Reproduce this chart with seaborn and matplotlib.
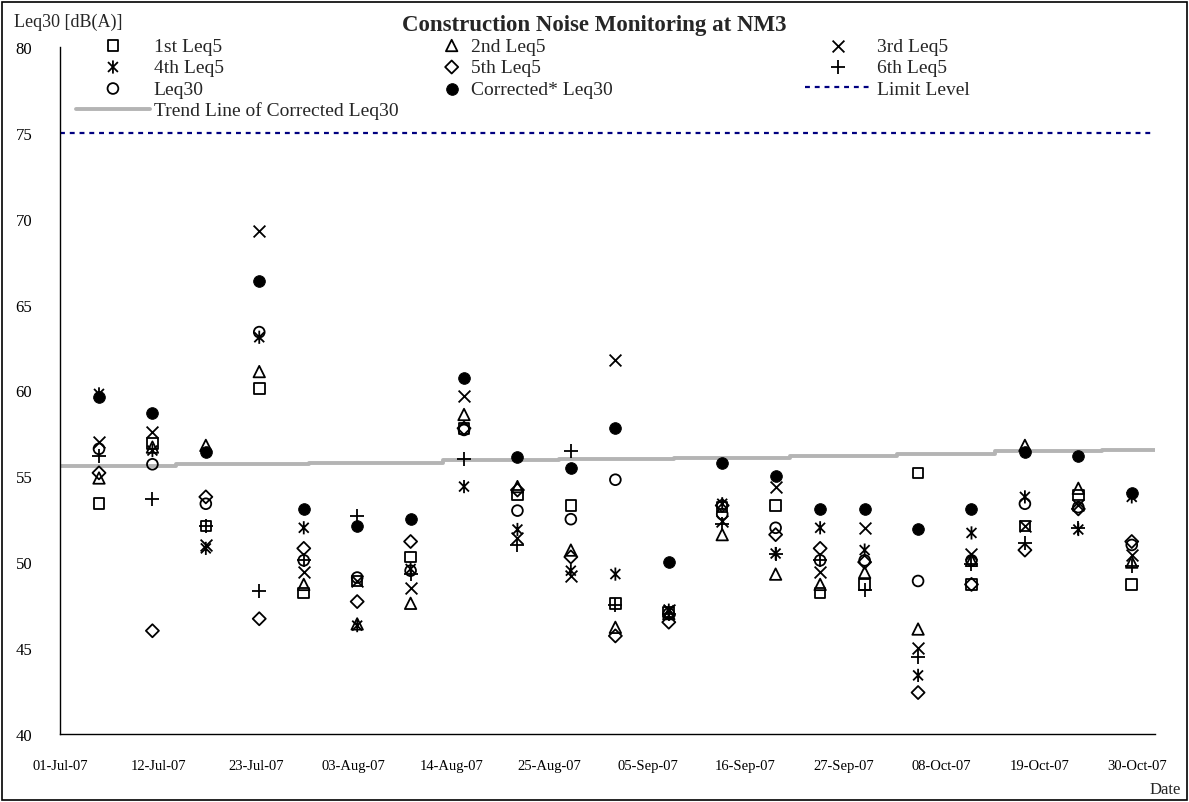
import matplotlib
matplotlib.use("Agg")
import pandas as pd
import seaborn as sns
import matplotlib.pyplot as plt
import matplotlib.dates as mdates
from matplotlib.path import Path
from matplotlib.patches import Rectangle

# measurement days (readings taken around 09:00)
dates = ["2007-07-05", "2007-07-11", "2007-07-17", "2007-07-23", "2007-07-28",
         "2007-08-03", "2007-08-09", "2007-08-15", "2007-08-21", "2007-08-27",
         "2007-09-01", "2007-09-07", "2007-09-13", "2007-09-19", "2007-09-24",
         "2007-09-29", "2007-10-05", "2007-10-11", "2007-10-17", "2007-10-23",
         "2007-10-29"]

leq5_1 = [53.4, 56.9, 52.1, 60.1, 48.2, 48.9, 50.3, 57.8, 53.9, 53.3, 47.6,
          47.1, 53.2, 53.3, 48.2, 48.7, 55.2, 48.7, 52.1, 53.9, 48.7]
leq5_2 = [54.9, 56.7, 56.8, 61.1, 48.7, 46.4, 47.6, 58.6, 54.4, 50.7, 46.2,
          47.0, 51.6, 49.3, 48.7, 49.4, 46.1, 50.1, 56.8, 54.3, 50.0]
leq5_3 = [57.0, 57.6, 51.0, 69.3, 49.4, 48.9, 48.5, 59.7, 51.4, 49.2, 61.8,
          47.2, 52.4, 54.4, 49.4, 52.0, 45.0, 50.5, 52.1, 53.3, 50.4]
leq5_4 = [59.8, 56.5, 50.8, 63.1, 52.0, 46.3, 49.6, 54.4, 51.9, 49.5, 49.3,
          47.2, 53.4, 50.5, 52.0, 50.7, 43.4, 51.7, 53.8, 51.9, 53.8]
leq5_5 = [55.2, 46.0, 53.8, 46.7, 50.8, 47.7, 51.2, 57.8, 54.2, 50.3, 45.7,
          46.5, 53.3, 51.6, 50.8, 50.0, 42.4, 48.7, 50.7, 53.1, 51.2]
leq5_6 = [56.2, 53.7, 52.1, 48.3, 50.1, 52.7, 49.3, 56.0, 51.0, 56.5, 47.5,
          47.0, 52.2, 50.5, 50.1, 48.4, 44.5, 49.9, 51.1, 52.0, 49.8]
leq30 = [56.6, 55.7, 53.4, 63.4, 50.1, 49.1, 49.5, 57.7, 53.0, 52.5, 54.8,
         47.0, 52.8, 52.0, 50.1, 50.1, 48.9, 50.1, 53.4, 53.2, 51.0]
leq30_corr = [59.6, 58.7, 56.4, 66.4, 53.1, 52.1, 52.5, 60.7, 56.1, 55.5, 57.8,
              50.0, 55.8, 55.0, 53.1, 53.1, 51.9, 53.1, 56.4, 56.2, 54.0]

trend_dates = ["2007-07-01", "2007-07-14", "2007-07-29", "2007-08-13", "2007-08-26",
               "2007-09-08", "2007-09-21", "2007-10-03", "2007-10-14", "2007-10-26",
               "2007-11-01"]
trend_vals = [55.57, 55.69, 55.80, 55.93, 56.00, 56.09, 56.20, 56.32, 56.45, 56.56, 56.56]

limit_dates = ["2007-07-01", "2007-11-01"]
limit_vals = [75, 75]

tick_dates = pd.date_range("2007-07-01", "2007-10-30", freq="11D")

t = pd.to_datetime(dates) + pd.Timedelta(hours=9)
df = pd.DataFrame({"Date": t, "1st Leq5": leq5_1, "2nd Leq5": leq5_2,
                   "3rd Leq5": leq5_3, "4th Leq5": leq5_4, "5th Leq5": leq5_5,
                   "6th Leq5": leq5_6, "Leq30": leq30, "Corrected* Leq30": leq30_corr})
trend = pd.DataFrame({"Date": pd.to_datetime(trend_dates), "v": trend_vals})
limit = pd.DataFrame({"Date": pd.to_datetime(limit_dates), "v": limit_vals})

sns.set_theme(style="white")
plt.rcParams["font.family"] = ["Liberation Serif", "DejaVu Serif"]

# excel style asterisk: x with a vertical bar
star = Path([(0, -1), (0, 1), (-0.75, -0.75), (0.75, 0.75), (-0.75, 0.75), (0.75, -0.75)],
            [Path.MOVETO, Path.LINETO] * 3)

open_kw = dict(facecolors="none", edgecolor="black", linewidth=1.3)
styles = {
    "1st Leq5": dict(marker="s", s=58, **open_kw),
    "2nd Leq5": dict(marker="^", s=68, **open_kw),
    "3rd Leq5": dict(marker="x", s=72, color="black", linewidth=1.3),
    "4th Leq5": dict(marker=star, s=90, **open_kw),
    "5th Leq5": dict(marker="D", s=44, **open_kw),
    "6th Leq5": dict(marker="+", s=95, color="black", linewidth=1.3),
    "Leq30": dict(marker="o", s=60, **open_kw),
    "Corrected* Leq30": dict(marker="o", s=70, color="black", edgecolor="black"),
}

fig = plt.figure(figsize=(11.89, 8.03), dpi=100)
ax = fig.add_axes([0.0505, 0.085, 0.921, 0.855])

sns.lineplot(data=trend, x="Date", y="v", ax=ax, color="#b4b4b4", linewidth=2.8,
             drawstyle="steps-post", estimator=None, label="Trend Line of Corrected Leq30",
             zorder=1)
sns.lineplot(data=limit, x="Date", y="v", ax=ax, color="#000080", linewidth=1.6,
             linestyle=(0, (2.2, 2.2)), estimator=None, label="Limit Level", zorder=1)
for name, kw in styles.items():
    sns.scatterplot(data=df, x="Date", y=name, ax=ax, label=name, zorder=3, **kw)

ax.set_xlim(pd.Timestamp("2007-07-01"), pd.Timestamp("2007-11-01"))
ax.set_ylim(40, 80)
ax.set_yticks(range(40, 81, 5))
ax.set_xticks(tick_dates)
ax.xaxis.set_major_formatter(mdates.DateFormatter("%d-%b-%y"))
ax.set_xlabel("")
ax.set_ylabel("")
for side in ["top", "right"]:
    ax.spines[side].set_visible(False)
for side in ["left", "bottom"]:
    ax.spines[side].set_color("black")
    ax.spines[side].set_linewidth(1.0)
ax.tick_params(axis="both", direction="in", length=5, width=1, color="black",
               labelcolor="black")
ax.tick_params(axis="y", pad=20, labelsize=12)
ax.tick_params(axis="x", pad=18, labelsize=10.5)
ax.grid(False)

# legend in three columns, like the spreadsheet layout
h, l = ax.get_legend_handles_labels()
hd = dict(zip(l, h))
ax.get_legend().remove()
cols = [
    (["1st Leq5", "4th Leq5", "Leq30", "Trend Line of Corrected Leq30"], 76, 3.8, 0.2),
    (["2nd Leq5", "5th Leq5", "Corrected* Leq30"], 440, 1.2, 0.4),
    (["3rd Leq5", "6th Leq5", "Limit Level"], 805, 3.4, 0.3),
]
for names, xpx, hl, pad in cols:
    fig.legend([hd[n] for n in names], names, loc="upper left",
               bbox_to_anchor=(xpx / 1189, 1 - 38 / 803), frameon=False,
               fontsize=14, handlelength=hl, handletextpad=pad,
               labelspacing=0.2, borderpad=0, borderaxespad=0)

fig.text(0.5, 0.981, "Construction Noise Monitoring at NM3", ha="center", va="top",
         fontsize=16.5, fontweight="bold")
fig.text(0.012, 0.983, "Leq30 [dB(A)]", ha="left", va="top", fontsize=13)
fig.text(0.993, 0.006, "Date", ha="right", va="bottom", fontsize=12)

fig.add_artist(Rectangle((0.002, 0.002), 0.996, 0.994, transform=fig.transFigure,
                         fill=False, edgecolor="black", linewidth=1.2))

fig.savefig("out.png", dpi=100, facecolor="white")
